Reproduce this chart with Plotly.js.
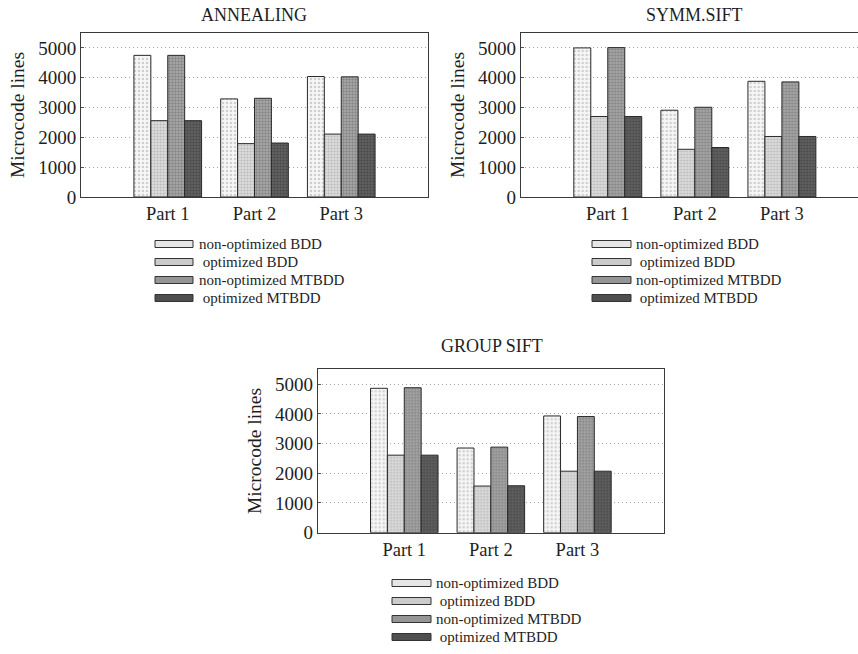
<!DOCTYPE html>
<html>
<head>
<meta charset="utf-8">
<script src="https://cdn.plot.ly/plotly-3.0.1.min.js"></script>
<style>
  html, body { margin: 0; padding: 0; background: #ffffff; }
  #chart { width: 858px; height: 654px; }
</style>
</head>
<body>
<div id="chart"></div>
<script>
// ---- Data ----
const categories = ['Part 1', 'Part 2', 'Part 3'];
const seriesNames = ['non-optimized BDD', 'optimized BDD', 'non-optimized MTBDD', 'optimized MTBDD'];
const chartTitles = ['ANNEALING', 'SYMM.SIFT', 'GROUP SIFT'];
const yTitle = 'Microcode lines';
const yTicks = [0, 1000, 2000, 3000, 4000, 5000];

const annealingNonOptBDD   = [4750, 3290, 4040];
const annealingOptBDD      = [2560, 1790, 2110];
const annealingNonOptMTBDD = [4750, 3310, 4030];
const annealingOptMTBDD    = [2560, 1810, 2110];

const symmNonOptBDD   = [5000, 2910, 3880];
const symmOptBDD      = [2700, 1600, 2030];
const symmNonOptMTBDD = [5010, 3010, 3860];
const symmOptMTBDD    = [2700, 1660, 2030];

const groupNonOptBDD   = [4860, 2850, 3930];
const groupOptBDD      = [2610, 1570, 2070];
const groupNonOptMTBDD = [4880, 2880, 3910];
const groupOptMTBDD    = [2610, 1580, 2070];

// ---- Styles ----
const W = 858, H = 654;
const FONT = 'Liberation Serif, Times New Roman, serif';
const TXT = '#1e1e1e';
const styles = [
  {bg: '#f6f6f6', fg: '#a8a8a8', size: 4, sol: 0.3, swatch: '#e6e6e6'},
  {bg: '#dcdcdc', fg: '#969696', size: 3, sol: 0.4, swatch: '#cbcbcb'},
  {bg: '#ababab', fg: '#626262', size: 3, sol: 0.5, swatch: '#959595'},
  {bg: '#666666', fg: '#303030', size: 3, sol: 0.5, swatch: '#4f4f4f'}
];

const chartData = [
  [annealingNonOptBDD, annealingOptBDD, annealingNonOptMTBDD, annealingOptMTBDD],
  [symmNonOptBDD, symmOptBDD, symmNonOptMTBDD, symmOptMTBDD],
  [groupNonOptBDD, groupOptBDD, groupNonOptMTBDD, groupOptMTBDD]
];

// plot boxes in pixels: left, right, top, bottom
const boxes = [
  {l: 81,    r: 428, t: 33,    b: 197,   xr: [-1, 3],     titleX: 254.5, titleY: 15,  mirrorY: true},
  {l: 520.7, r: 858, t: 33,    b: 197,   xr: [-1, 2.874], titleX: 694,   titleY: 15,  mirrorY: false},
  {l: 317.7, r: 664, t: 369.3, b: 532.7, xr: [-1, 3],     titleX: 492,   titleY: 346, mirrorY: true}
];
const legends = [
  {sx0: 155, sx1: 193, tx: 197, y0: 244},
  {sx0: 592, sx1: 631, tx: 634, y0: 244},
  {sx0: 392, sx1: 431, tx: 434, y0: 583}
];

const traces = [];
const layout = {
  width: W, height: H,
  margin: {l: 0, r: 0, t: 0, b: 0},
  paper_bgcolor: '#ffffff',
  plot_bgcolor: '#ffffff',
  barmode: 'group',
  bargap: 0.22,
  bargroupgap: 0,
  showlegend: false,
  font: {family: FONT, color: TXT, size: 17},
  annotations: [],
  shapes: []
};

boxes.forEach((bx, c) => {
  const sfx = c === 0 ? '' : String(c + 1);
  chartData[c].forEach((vals, s) => {
    const st = styles[s];
    traces.push({
      type: 'bar',
      x: categories,
      y: vals,
      name: seriesNames[s],
      xaxis: 'x' + sfx,
      yaxis: 'y' + sfx,
      marker: {
        color: st.bg,
        line: {color: '#2a2a2a', width: 1},
        pattern: {shape: '.', fillmode: 'overlay', fgcolor: st.fg, bgcolor: st.bg, size: st.size, solidity: st.sol}
      },
      hoverinfo: 'x+y+name'
    });
  });
  layout['xaxis' + sfx] = {
    domain: [bx.l / W, bx.r / W],
    anchor: 'y' + sfx,
    type: 'category',
    range: bx.xr,
    showline: true, linecolor: '#3a3a3a', linewidth: 1, mirror: true,
    showgrid: false, zeroline: false,
    ticks: '', tickfont: {family: FONT, size: 18.5, color: TXT},
    automargin: false, fixedrange: true
  };
  layout['yaxis' + sfx] = {
    domain: [1 - bx.b / H, 1 - bx.t / H],
    anchor: 'x' + sfx,
    range: [0, 5500],
    tickvals: yTicks,
    showline: true, linecolor: '#3a3a3a', linewidth: 1, mirror: bx.mirrorY,
    showgrid: true, gridcolor: '#a0a0a0', gridwidth: 1, griddash: '1px,3px',
    zeroline: false,
    ticks: 'inside', ticklen: 3, tickcolor: '#555555',
    tickfont: {family: FONT, size: 19, color: TXT},
    title: {text: yTitle, font: {family: FONT, size: 19.5, color: TXT}, standoff: 8},
    automargin: false, fixedrange: true
  };
  layout.annotations.push({
    xref: 'paper', yref: 'paper',
    x: bx.titleX / W, y: 1 - bx.titleY / H,
    xanchor: 'center', yanchor: 'middle',
    text: chartTitles[c], showarrow: false,
    font: {family: FONT, size: 18, color: TXT}
  });
  // custom legend
  const lg = legends[c];
  seriesNames.forEach((nm, s) => {
    const yc = lg.y0 + s * 18;
    layout.shapes.push({
      type: 'rect', xref: 'paper', yref: 'paper',
      x0: lg.sx0 / W, x1: lg.sx1 / W,
      y0: 1 - (yc + 3.5) / H, y1: 1 - (yc - 3.5) / H,
      fillcolor: styles[s].swatch,
      line: {color: '#333333', width: 1}
    });
    layout.annotations.push({
      xref: 'paper', yref: 'paper',
      x: lg.tx / W, y: 1 - yc / H,
      xanchor: 'left', yanchor: 'middle',
      text: (s % 2 === 1 ? ' ' : '') + nm, showarrow: false,
      font: {family: FONT, size: 15, color: TXT}
    });
  });
});

Plotly.newPlot('chart', traces, layout, {displayModeBar: false, staticPlot: true});
</script>
</body>
</html>
